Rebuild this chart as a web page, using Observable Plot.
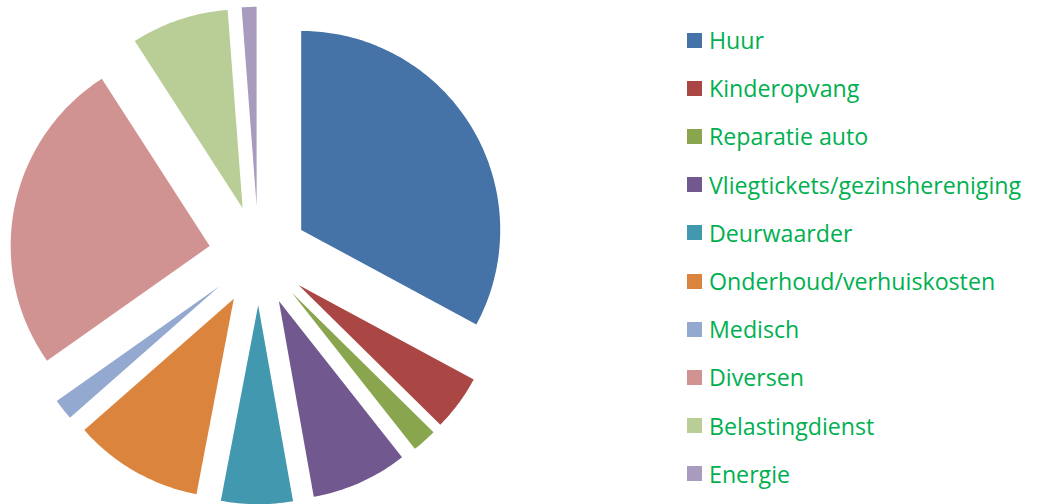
<!DOCTYPE html>
<html>
<head>
<meta charset="utf-8">
<script src="https://cdn.jsdelivr.net/npm/d3@7"></script>
<script src="https://cdn.jsdelivr.net/npm/@observablehq/plot@0.6"></script>
<style>
  html, body { margin: 0; padding: 0; background: #fff; }
  #wrap { position: relative; width: 1037px; height: 504px; overflow: hidden; }
  #chart { position: absolute; left: 0; top: 0; }
  #legend { position: absolute; left: 687px; top: 0; font-family: "Open Sans", sans-serif; }
  .item { position: absolute; left: 0; display: flex; align-items: center; white-space: nowrap; }
  .sw { width: 15px; height: 15px; margin-right: 7px; flex: none; }
  .lab { color: #00B050; font-size: 23.2px; line-height: 26px; }
</style>
</head>
<body>
<div id="wrap"><div id="chart"></div><div id="legend"></div></div>
<script>
const categories = ["Huur", "Kinderopvang", "Reparatie auto", "Vliegtickets/gezinshereniging", "Deurwaarder", "Onderhoud/verhuiskosten", "Medisch", "Diversen", "Belastingdienst", "Energie"];
const values = [32.8, 4.5, 2.0, 7.8, 5.8, 10.5, 1.7, 25.6, 7.9, 1.2];
const colors = ["#4572A7", "#AA4643", "#89A54E", "#71588F", "#4198AF", "#DB843D", "#93A9CF", "#D19392", "#B9CD96", "#A99BBD"];

const explode = 0.25;
const arcs = d3.pie().sort(null).startAngle(0).endAngle(2 * Math.PI)(values);
const rows = [];
arcs.forEach((a, i) => {
  const m = (a.startAngle + a.endAngle) / 2;
  const ox = Math.sin(m) * explode, oy = Math.cos(m) * explode;
  rows.push({cat: categories[i], x: ox, y: oy});
  const n = Math.max(2, Math.ceil((a.endAngle - a.startAngle) * 180 / Math.PI));
  for (let k = 0; k <= n; k++) {
    const t = a.startAngle + (a.endAngle - a.startAngle) * k / n;
    rows.push({cat: categories[i], x: ox + Math.sin(t), y: oy + Math.cos(t)});
  }
  rows.push({cat: categories[i], x: ox, y: oy});
});

const W = 660, H = 504, R = 199, CX = 258, CY = 255;
const chart = Plot.plot({
  width: W, height: H, margin: 0,
  x: {domain: [-CX / R, (W - CX) / R], axis: null},
  y: {domain: [-(H - CY) / R, CY / R], axis: null},
  color: {domain: categories, range: colors},
  marks: [
    Plot.line(rows, {x: "x", y: "y", z: "cat", fill: "cat", stroke: null, curve: "linear"})
  ]
});
document.getElementById("chart").appendChild(chart);

const legend = document.getElementById("legend");
categories.forEach((c, i) => {
  const it = document.createElement("div");
  it.className = "item";
  it.style.top = (40 + i * 48.2 - 13) + "px";
  it.innerHTML = `<span class="sw" style="background:${colors[i]}"></span><span class="lab">${c}</span>`;
  legend.appendChild(it);
});
</script>
</body>
</html>
